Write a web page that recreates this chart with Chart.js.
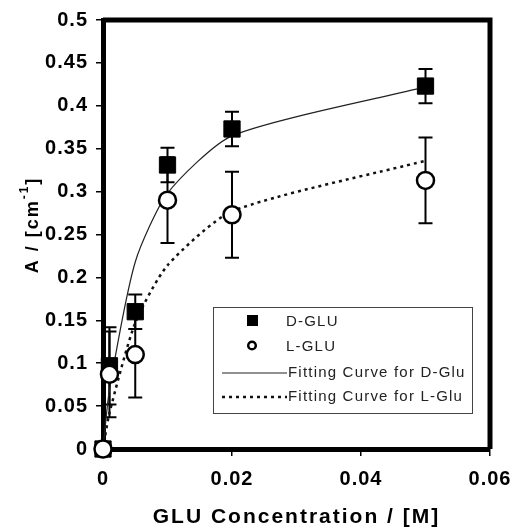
<!DOCTYPE html>
<html lang="en">
<head>
<meta charset="utf-8">
<title>GLU absorbance</title>
<script src="https://cdn.jsdelivr.net/npm/chart.js@4.4.1/dist/chart.umd.min.js"></script>
<style>
  html, body { margin: 0; padding: 0; background: #fff; }
  #wrap { width: 516px; height: 529px; position: relative; }
</style>
</head>
<body>
<div id="wrap"><canvas id="gluChart"></canvas></div>
<script>
// concentrations [M] and measured absorbance
var conc = [0, 0.001, 0.005, 0.01, 0.02, 0.05];
var dGlu = [0, 0.097, 0.16, 0.331, 0.373, 0.423];
var dErr = [0, 0.045, 0.02, 0.02, 0.02, 0.02];
var lGlu = [0, 0.087, 0.11, 0.29, 0.273, 0.313];
var lErr = [0, 0.05, 0.05, 0.05, 0.05, 0.05];
// fitted curves, evaluated at the same concentrations
var dFit = [0, 0.069, 0.218, 0.298, 0.365, 0.422];
var lFit = [0, 0.042, 0.147, 0.214, 0.277, 0.336];

var xTickLabels = ['0', '0.02', '0.04', '0.06'];
var yTickLabels = ['0', '0.05', '0.1', '0.15', '0.2', '0.25', '0.3', '0.35', '0.4', '0.45', '0.5'];

var tickFont = { family: '"Liberation Sans", Arial, sans-serif', size: 20, weight: 'bold' };

function toPoints(ys) {
  return conc.map(function (x, i) { return { x: x, y: ys[i] }; });
}

var whiteBg = {
  id: 'whiteBg',
  beforeDraw: function (chart) {
    var ctx = chart.ctx;
    ctx.save();
    ctx.fillStyle = '#fff';
    ctx.fillRect(0, 0, chart.width, chart.height);
    ctx.restore();
    // wide tick lettering
    ctx.letterSpacing = '1px';
  },
  afterDraw: function (chart) {
    chart.ctx.letterSpacing = '0px';
  }
};

// top and right edges of the plot frame, plus error bars behind the markers
var frameAndErrors = {
  id: 'frameAndErrors',
  beforeDatasetsDraw: function (chart) {
    var ctx = chart.ctx, a = chart.chartArea;
    var xs = chart.scales.x, ys = chart.scales.y;
    ctx.save();
    ctx.strokeStyle = '#000';
    ctx.lineWidth = 5;
    ctx.beginPath();
    ctx.moveTo(a.left, a.top);
    ctx.lineTo(a.right, a.top);
    ctx.lineTo(a.right, a.bottom);
    ctx.stroke();

    ctx.lineWidth = 2;
    [[dGlu, dErr], [lGlu, lErr]].forEach(function (s) {
      conc.forEach(function (c, i) {
        if (!s[1][i]) return;
        var px = xs.getPixelForValue(c);
        var top = ys.getPixelForValue(s[0][i] + s[1][i]);
        var bot = ys.getPixelForValue(s[0][i] - s[1][i]);
        ctx.beginPath();
        ctx.moveTo(px, top); ctx.lineTo(px, bot);
        ctx.moveTo(px - 7, top); ctx.lineTo(px + 7, top);
        ctx.moveTo(px - 7, bot); ctx.lineTo(px + 7, bot);
        ctx.stroke();
      });
    });
    ctx.restore();
  }
};

// axis titles and the boxed legend
var labels = {
  id: 'labels',
  afterDraw: function (chart) {
    var ctx = chart.ctx, a = chart.chartArea;
    var ds = chart.data.datasets;
    ctx.save();
    ctx.fillStyle = '#000';

    ctx.font = 'bold 21px "Liberation Sans", Arial, sans-serif';
    ctx.letterSpacing = '2px';
    ctx.textAlign = 'center';
    ctx.textBaseline = 'alphabetic';
    ctx.fillText('GLU Concentration / [M]', (a.left + a.right) / 2, 523);

    // y title with superscript
    ctx.save();
    ctx.translate(38, 225);
    ctx.rotate(-Math.PI / 2);
    ctx.textAlign = 'left';
    var main = 'bold 18px "Liberation Sans", Arial, sans-serif';
    var sup = 'bold 12px "Liberation Sans", Arial, sans-serif';
    ctx.font = main;
    var w1 = ctx.measureText('A / [cm').width;
    var w3 = ctx.measureText(']').width;
    ctx.font = sup;
    var w2 = ctx.measureText('-1').width;
    var x0 = -(w1 + w2 + w3) / 2;
    ctx.font = main;
    ctx.fillText('A / [cm', x0, 0);
    ctx.font = sup;
    ctx.fillText('-1', x0 + w1, -10);
    ctx.font = main;
    ctx.fillText(']', x0 + w1 + w2, 0);
    ctx.restore();

    // legend
    ctx.letterSpacing = '1.2px';
    ctx.strokeStyle = '#444';
    ctx.lineWidth = 1;
    ctx.strokeRect(213.5, 307.5, 259, 106);

    ctx.fillStyle = '#000';
    ctx.fillRect(247, 315, 11, 11);
    ctx.beginPath();
    ctx.lineWidth = 2.5;
    ctx.strokeStyle = '#000';
    ctx.arc(252, 345.5, 3.8, 0, Math.PI * 2);
    ctx.stroke();

    ctx.lineWidth = 1;
    ctx.strokeStyle = ds[2].borderColor;
    ctx.beginPath();
    ctx.moveTo(222, 373); ctx.lineTo(287, 373);
    ctx.stroke();

    ctx.lineWidth = ds[3].borderWidth;
    ctx.strokeStyle = ds[3].borderColor;
    ctx.setLineDash(ds[3].borderDash);
    ctx.beginPath();
    ctx.moveTo(222, 397); ctx.lineTo(287, 397);
    ctx.stroke();
    ctx.setLineDash([]);

    ctx.font = '15px "Liberation Sans", Arial, sans-serif';
    ctx.textAlign = 'left';
    ctx.fillStyle = '#222';
    ctx.fillText(ds[1].label, 286, 326);
    ctx.fillText(ds[0].label, 286, 351);
    ctx.fillText(ds[2].label, 288, 377);
    ctx.fillText(ds[3].label, 288, 401);
    ctx.restore();
  }
};

new Chart(document.getElementById('gluChart'), {
  type: 'scatter',
  data: {
    datasets: [{
      label: 'L-GLU',
      data: toPoints(lGlu),
      showLine: false,
      pointStyle: 'circle',
      pointRadius: 8.5,
      pointBorderWidth: 2.5,
      pointBackgroundColor: '#fff',
      pointBorderColor: '#000',
      clip: false,
      order: 0
    }, {
      label: 'D-GLU',
      data: toPoints(dGlu),
      showLine: false,
      pointStyle: 'rect',
      pointRadius: 11.5,
      pointBorderWidth: 1,
      pointBackgroundColor: '#000',
      pointBorderColor: '#000',
      clip: false,
      order: 1
    }, {
      label: 'Fitting Curve for D-Glu',
      data: toPoints(dFit),
      showLine: true,
      pointRadius: 0,
      borderColor: '#222',
      borderWidth: 1.2,
      tension: 0.22,
      clip: false,
      order: 2
    }, {
      label: 'Fitting Curve for L-Glu',
      data: toPoints(lFit),
      showLine: true,
      pointRadius: 0,
      borderColor: '#111',
      borderWidth: 2.5,
      borderDash: [3, 4],
      tension: 0.22,
      clip: false,
      order: 3
    }]
  },
  options: {
    responsive: true,
    maintainAspectRatio: false,
    animation: false,
    layout: { padding: { left: 0, top: 20, right: 26, bottom: 0 } },
    plugins: {
      legend: { display: false },
      tooltip: { enabled: false }
    },
    scales: {
      x: {
        type: 'linear',
        min: 0,
        max: 0.06,
        afterFit: function (scale) {
          scale.height = 80;
          scale.paddingLeft = 0;
          scale.paddingRight = 0;
        },
        border: { display: true, width: 5, color: '#000' },
        grid: { drawOnChartArea: false, drawTicks: true, tickLength: 7, color: '#000', lineWidth: 1.5 },
        ticks: {
          stepSize: 0.02,
          padding: 11,
          color: '#000',
          font: tickFont,
          callback: function (v, i) { return xTickLabels[i]; }
        }
      },
      y: {
        min: 0,
        max: 0.5,
        afterFit: function (scale) {
          scale.width = 103;
          scale.paddingTop = 0;
          scale.paddingBottom = 0;
        },
        border: { display: true, width: 5, color: '#000' },
        grid: { drawOnChartArea: false, drawTicks: true, tickLength: 7, color: '#000', lineWidth: 1.5 },
        ticks: {
          stepSize: 0.05,
          padding: 8,
          color: '#000',
          font: tickFont,
          callback: function (v, i) { return yTickLabels[i]; }
        }
      }
    }
  },
  plugins: [whiteBg, frameAndErrors, labels]
});
</script>
</body>
</html>
